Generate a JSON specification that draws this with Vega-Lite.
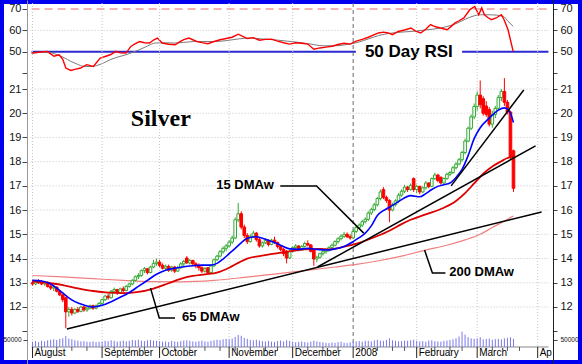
{
"$schema":"https://vega.github.io/schema/vega-lite/v6.json",
"width":582,"height":364,"autosize":"none","padding":0,"background":"white",
"config":{"view":{"stroke":"#0000ee","strokeWidth":8,"fill":"white"},"font":"Liberation Sans"},
"datasets":{
"rsi":[{"i":-0.3,"r":49.4},{"i":2,"r":49.8},{"i":4.9,"r":50.2},{"i":6,"r":49.0},{"i":7.1,"r":47.9},{"i":8.8,"r":48.6},{"i":10,"r":46.5},{"i":11,"r":42.4},{"i":12.7,"r":41.3},{"i":14,"r":41.8},{"i":15.9,"r":42.4},{"i":17.9,"r":44.0},{"i":20.1,"r":43.2},{"i":22.4,"r":47.1},{"i":24,"r":47.8},{"i":25.7,"r":48.6},{"i":27.6,"r":50.2},{"i":29,"r":49.5},{"i":30.9,"r":49.4},{"i":32.5,"r":52.5},{"i":34,"r":53.8},{"i":35.4,"r":54.8},{"i":37,"r":54.2},{"i":38.7,"r":54.1},{"i":40,"r":55.5},{"i":41.3,"r":56.4},{"i":42.9,"r":54.1},{"i":45,"r":53.5},{"i":47.1,"r":53.3},{"i":48.5,"r":54.5},{"i":50,"r":55.7},{"i":51.7,"r":56.4},{"i":54.3,"r":54.8},{"i":56,"r":54.3},{"i":58,"r":53.8},{"i":60,"r":54.8},{"i":62,"r":55.6},{"i":64,"r":56.2},{"i":66,"r":56.8},{"i":68,"r":58.2},{"i":69,"r":57.5},{"i":71,"r":56.2},{"i":73,"r":56.6},{"i":75,"r":55.4},{"i":77,"r":55.8},{"i":79,"r":55.9},{"i":81,"r":55.0},{"i":83,"r":54.2},{"i":85,"r":53.6},{"i":87,"r":54.2},{"i":89,"r":54.0},{"i":91,"r":53.6},{"i":93,"r":51.2},{"i":95,"r":51.8},{"i":97,"r":52.2},{"i":99,"r":52.6},{"i":101,"r":53.4},{"i":103,"r":54.0},{"i":105,"r":53.6},{"i":107,"r":55.0},{"i":109,"r":55.8},{"i":111,"r":56.8},{"i":113,"r":58.0},{"i":114.4,"r":58.8},{"i":116,"r":59.2},{"i":117.6,"r":58.8},{"i":119,"r":58.0},{"i":120.9,"r":59.5},{"i":123,"r":60.2},{"i":125.1,"r":61.1},{"i":126.5,"r":59.8},{"i":128.3,"r":58.8},{"i":130,"r":60.5},{"i":131.6,"r":62.7},{"i":133,"r":61.8},{"i":134.8,"r":61.1},{"i":137.1,"r":60.3},{"i":138.5,"r":62.0},{"i":139.7,"r":63.5},{"i":141,"r":64.5},{"i":142.6,"r":65.8},{"i":144.6,"r":69.7},{"i":146.2,"r":71.2},{"i":147.5,"r":67.3},{"i":148.5,"r":70.5},{"i":149.4,"r":67.3},{"i":150.5,"r":66.0},{"i":151.7,"r":65.0},{"i":153.3,"r":65.8},{"i":155,"r":67.3},{"i":155.9,"r":65.0},{"i":157.2,"r":60.3},{"i":158.9,"r":50.2}],
"sig":[{"i":-0.3,"r":49.4},{"i":4.9,"r":49.8},{"i":8.2,"r":48.6},{"i":10.5,"r":47.2},{"i":12.7,"r":45.5},{"i":14.8,"r":44.2},{"i":16.9,"r":43.2},{"i":19,"r":43.1},{"i":21.1,"r":43.5},{"i":23.5,"r":44.8},{"i":25.7,"r":46.3},{"i":28.3,"r":47.6},{"i":30.9,"r":48.6},{"i":33,"r":49.7},{"i":35.4,"r":51.0},{"i":38,"r":52.7},{"i":40.6,"r":54.1},{"i":44,"r":54.2},{"i":47.1,"r":54.1},{"i":50,"r":54.4},{"i":53.6,"r":54.8},{"i":57,"r":54.8},{"i":60,"r":54.8},{"i":64,"r":55.2},{"i":68,"r":56.0},{"i":72,"r":56.4},{"i":76,"r":56.0},{"i":80,"r":55.6},{"i":84,"r":55.0},{"i":88,"r":54.4},{"i":92,"r":53.6},{"i":96,"r":52.8},{"i":100,"r":52.8},{"i":104,"r":53.4},{"i":108,"r":54.6},{"i":111,"r":56.0},{"i":114.4,"r":57.6},{"i":118,"r":58.6},{"i":122,"r":59.2},{"i":125.1,"r":59.5},{"i":130,"r":60.2},{"i":134.8,"r":61.1},{"i":138,"r":62.2},{"i":140.6,"r":63.5},{"i":143,"r":65.2},{"i":146,"r":66.8},{"i":148,"r":67.3},{"i":151.3,"r":67.3},{"i":155.6,"r":66.6},{"i":157.2,"r":64.2},{"i":158.9,"r":61.9}],
"m15":[{"i":0,"p":13.1},{"i":3,"p":13.07},{"i":6,"p":12.95},{"i":8,"p":12.78},{"i":10,"p":12.58},{"i":12,"p":12.38},{"i":14,"p":12.22},{"i":17,"p":12.08},{"i":20,"p":12.0},{"i":23,"p":12.07},{"i":26,"p":12.22},{"i":29,"p":12.4},{"i":32,"p":12.6},{"i":35,"p":12.85},{"i":38,"p":13.1},{"i":41,"p":13.35},{"i":44,"p":13.52},{"i":47,"p":13.6},{"i":50,"p":13.66},{"i":53,"p":13.7},{"i":56,"p":13.73},{"i":59,"p":13.73},{"i":61,"p":13.8},{"i":63,"p":13.98},{"i":65,"p":14.2},{"i":67,"p":14.42},{"i":69,"p":14.65},{"i":71,"p":14.84},{"i":74,"p":14.9},{"i":77,"p":14.8},{"i":80,"p":14.66},{"i":82,"p":14.55},{"i":85,"p":14.4},{"i":88,"p":14.38},{"i":91,"p":14.42},{"i":94,"p":14.38},{"i":97,"p":14.35},{"i":100,"p":14.4},{"i":103,"p":14.5},{"i":106,"p":14.7},{"i":108,"p":14.86},{"i":110,"p":15.05},{"i":112,"p":15.35},{"i":114,"p":15.78},{"i":116,"p":15.98},{"i":118,"p":16.12},{"i":121,"p":16.35},{"i":125,"p":16.6},{"i":128,"p":16.55},{"i":130,"p":16.68},{"i":132,"p":16.85},{"i":134,"p":16.98},{"i":136,"p":17.05},{"i":138,"p":17.12},{"i":140,"p":17.35},{"i":142,"p":17.68},{"i":144,"p":18.25},{"i":146,"p":18.95},{"i":148,"p":19.4},{"i":151,"p":19.8},{"i":154,"p":20.13},{"i":156,"p":20.22},{"i":157.5,"p":20.12},{"i":159,"p":19.62}],
"m65":[{"i":0,"p":13.05},{"i":5,"p":13.0},{"i":10,"p":12.9},{"i":15,"p":12.77},{"i":20,"p":12.66},{"i":25,"p":12.59},{"i":30,"p":12.57},{"i":35,"p":12.62},{"i":40,"p":12.76},{"i":45,"p":12.98},{"i":49,"p":13.16},{"i":53,"p":13.28},{"i":57,"p":13.35},{"i":61,"p":13.42},{"i":65,"p":13.62},{"i":68,"p":13.82},{"i":71,"p":14.0},{"i":75,"p":14.1},{"i":80,"p":14.2},{"i":85,"p":14.3},{"i":90,"p":14.38},{"i":95,"p":14.4},{"i":98,"p":14.38},{"i":103,"p":14.49},{"i":108,"p":14.65},{"i":114,"p":14.93},{"i":118,"p":15.15},{"i":122,"p":15.42},{"i":125,"p":15.6},{"i":130,"p":15.82},{"i":136,"p":16.1},{"i":140,"p":16.38},{"i":143,"p":16.7},{"i":146,"p":17.1},{"i":149,"p":17.5},{"i":152,"p":17.8},{"i":155,"p":18.02},{"i":157,"p":18.15},{"i":159,"p":18.22}],
"m200":[{"i":0,"p":13.3},{"i":10,"p":13.24},{"i":20,"p":13.17},{"i":30,"p":13.1},{"i":40,"p":13.05},{"i":49,"p":13.04},{"i":60,"p":13.1},{"i":70,"p":13.22},{"i":80,"p":13.36},{"i":90,"p":13.5},{"i":100,"p":13.65},{"i":107,"p":13.76},{"i":114,"p":13.9},{"i":122,"p":14.1},{"i":130,"p":14.35},{"i":137,"p":14.55},{"i":143,"p":14.77},{"i":148,"p":15.0},{"i":152,"p":15.28},{"i":156,"p":15.55},{"i":159,"p":15.76}],
"ann":[{"g":"A","i":11.37,"p":11.09},{"g":"A","i":168.3,"p":15.92},{"g":"B","i":94.2,"p":13.65},{"g":"B","i":166.3,"p":18.65},{"g":"C","i":138.4,"p":17.0},{"g":"C","i":162.4,"p":20.96},{"g":"P15","i":81.9,"p":17.0},{"g":"P15","i":93.9,"p":17.0},{"g":"P15","i":109.5,"p":15.05},{"g":"P65","i":39.0,"p":12.78},{"g":"P65","i":41.9,"p":11.545},{"g":"P65","i":47.1,"p":11.545},{"g":"P200","i":129.6,"p":14.35},{"g":"P200","i":132.2,"p":13.4},{"g":"P200","i":136.5,"p":13.4}],
"months":[{"m":0,"name":"August"},{"m":23,"name":"September"},{"m":42,"name":"October"},{"m":65,"name":"November"},{"m":86,"name":"December"},{"m":106,"name":"2008"},{"m":127,"name":"February"},{"m":147,"name":"March"},{"m":167,"name":"Ap"}],
"weeks":[{"w":3},{"w":8},{"w":13},{"w":18},{"w":27},{"w":32},{"w":37},{"w":47},{"w":52},{"w":57},{"w":62},{"w":67},{"w":72},{"w":77},{"w":81},{"w":91},{"w":96},{"w":101},{"w":109},{"w":114},{"w":119},{"w":123},{"w":133},{"w":138},{"w":142},{"w":152},{"w":157},{"w":161}],
"candles":[
{"i":0,"o":13.0,"h":13.12,"l":12.88,"c":12.95,"v":38000},
{"i":1,"o":12.95,"h":13.1,"l":12.9,"c":13.05,"v":42000},
{"i":2,"o":13.05,"h":13.15,"l":12.95,"c":13.0,"v":35000},
{"i":3,"o":13.0,"h":13.1,"l":12.9,"c":12.95,"v":45000},
{"i":4,"o":12.95,"h":13.08,"l":12.88,"c":13.02,"v":40000},
{"i":5,"o":13.02,"h":13.05,"l":12.8,"c":12.85,"v":48000},
{"i":6,"o":12.85,"h":12.95,"l":12.7,"c":12.78,"v":52000},
{"i":7,"o":12.78,"h":12.9,"l":12.65,"c":12.82,"v":55000},
{"i":8,"o":12.82,"h":12.85,"l":12.6,"c":12.65,"v":50000},
{"i":9,"o":12.65,"h":12.7,"l":12.45,"c":12.5,"v":58000},
{"i":10,"o":12.5,"h":12.55,"l":12.2,"c":12.3,"v":62000},
{"i":11,"o":12.38,"h":12.42,"l":11.12,"c":11.8,"v":78000},
{"i":12,"o":11.8,"h":12.0,"l":11.6,"c":11.9,"v":60000},
{"i":13,"o":11.9,"h":12.0,"l":11.65,"c":11.75,"v":55000},
{"i":14,"o":11.75,"h":11.95,"l":11.7,"c":11.9,"v":48000},
{"i":15,"o":11.9,"h":12.0,"l":11.75,"c":11.82,"v":45000},
{"i":16,"o":11.82,"h":12.05,"l":11.78,"c":12.0,"v":40000},
{"i":17,"o":12.0,"h":12.05,"l":11.8,"c":11.88,"v":42000},
{"i":18,"o":11.88,"h":12.0,"l":11.8,"c":11.95,"v":38000},
{"i":19,"o":11.95,"h":12.1,"l":11.9,"c":12.05,"v":36000},
{"i":20,"o":12.05,"h":12.1,"l":11.88,"c":11.95,"v":40000},
{"i":21,"o":11.95,"h":12.1,"l":11.9,"c":12.05,"v":35000},
{"i":22,"o":12.05,"h":12.2,"l":12.0,"c":12.15,"v":38000},
{"i":23,"o":12.15,"h":12.35,"l":12.1,"c":12.3,"v":40000},
{"i":24,"o":12.3,"h":12.5,"l":12.25,"c":12.45,"v":45000},
{"i":25,"o":12.45,"h":12.55,"l":12.3,"c":12.38,"v":42000},
{"i":26,"o":12.38,"h":12.7,"l":12.35,"c":12.65,"v":48000},
{"i":27,"o":12.65,"h":12.8,"l":12.55,"c":12.72,"v":44000},
{"i":28,"o":12.72,"h":12.75,"l":12.5,"c":12.58,"v":38000},
{"i":29,"o":12.58,"h":12.8,"l":12.55,"c":12.75,"v":42000},
{"i":30,"o":12.75,"h":12.85,"l":12.6,"c":12.68,"v":46000},
{"i":31,"o":12.68,"h":12.9,"l":12.65,"c":12.85,"v":40000},
{"i":32,"o":12.85,"h":13.0,"l":12.8,"c":12.95,"v":44000},
{"i":33,"o":12.95,"h":13.15,"l":12.9,"c":13.1,"v":50000},
{"i":34,"o":13.1,"h":13.3,"l":13.05,"c":13.25,"v":48000},
{"i":35,"o":13.25,"h":13.4,"l":13.15,"c":13.3,"v":52000},
{"i":36,"o":13.3,"h":13.55,"l":13.25,"c":13.5,"v":45000},
{"i":37,"o":13.5,"h":13.65,"l":13.4,"c":13.58,"v":42000},
{"i":38,"o":13.58,"h":13.6,"l":13.35,"c":13.42,"v":48000},
{"i":39,"o":13.42,"h":13.7,"l":13.4,"c":13.65,"v":50000},
{"i":40,"o":13.65,"h":13.95,"l":13.6,"c":13.8,"v":46000},
{"i":41,"o":13.8,"h":14.0,"l":13.7,"c":13.85,"v":44000},
{"i":42,"o":13.85,"h":13.95,"l":13.65,"c":13.72,"v":42000},
{"i":43,"o":13.72,"h":13.8,"l":13.55,"c":13.6,"v":38000},
{"i":44,"o":13.6,"h":13.75,"l":13.5,"c":13.68,"v":40000},
{"i":45,"o":13.68,"h":13.75,"l":13.45,"c":13.52,"v":36000},
{"i":46,"o":13.52,"h":13.7,"l":13.45,"c":13.65,"v":44000},
{"i":47,"o":13.65,"h":13.7,"l":13.4,"c":13.48,"v":40000},
{"i":48,"o":13.48,"h":13.7,"l":13.45,"c":13.62,"v":38000},
{"i":49,"o":13.62,"h":13.85,"l":13.58,"c":13.78,"v":42000},
{"i":50,"o":13.78,"h":13.95,"l":13.7,"c":13.88,"v":46000},
{"i":51,"o":14.02,"h":14.1,"l":13.78,"c":13.82,"v":48000},
{"i":52,"o":13.82,"h":13.98,"l":13.75,"c":13.92,"v":44000},
{"i":53,"o":13.92,"h":13.95,"l":13.7,"c":13.78,"v":40000},
{"i":54,"o":13.78,"h":13.85,"l":13.6,"c":13.7,"v":38000},
{"i":55,"o":13.7,"h":13.8,"l":13.5,"c":13.62,"v":42000},
{"i":56,"o":13.62,"h":13.68,"l":13.4,"c":13.48,"v":45000},
{"i":57,"o":13.48,"h":13.65,"l":13.42,"c":13.58,"v":40000},
{"i":58,"o":13.62,"h":13.65,"l":13.35,"c":13.42,"v":38000},
{"i":59,"o":13.42,"h":13.75,"l":13.4,"c":13.7,"v":44000},
{"i":60,"o":13.7,"h":14.0,"l":13.65,"c":13.95,"v":48000},
{"i":61,"o":13.95,"h":14.15,"l":13.9,"c":14.1,"v":52000},
{"i":62,"o":14.1,"h":14.35,"l":14.05,"c":14.28,"v":50000},
{"i":63,"o":14.28,"h":14.5,"l":14.2,"c":14.42,"v":55000},
{"i":64,"o":14.42,"h":14.6,"l":14.3,"c":14.52,"v":58000},
{"i":65,"o":14.52,"h":14.75,"l":14.45,"c":14.68,"v":55000},
{"i":66,"o":14.68,"h":14.95,"l":14.6,"c":14.85,"v":60000},
{"i":67,"o":14.85,"h":15.7,"l":14.8,"c":15.6,"v":72000},
{"i":68,"o":15.6,"h":16.3,"l":15.5,"c":15.85,"v":86000},
{"i":69,"o":15.85,"h":15.95,"l":15.2,"c":15.3,"v":80000},
{"i":70,"o":15.3,"h":15.4,"l":14.85,"c":14.95,"v":65000},
{"i":71,"o":14.95,"h":15.05,"l":14.6,"c":14.7,"v":58000},
{"i":72,"o":14.7,"h":15.0,"l":14.65,"c":14.92,"v":50000},
{"i":73,"o":14.92,"h":15.15,"l":14.85,"c":15.05,"v":48000},
{"i":74,"o":15.05,"h":15.1,"l":14.7,"c":14.78,"v":52000},
{"i":75,"o":14.78,"h":14.85,"l":14.45,"c":14.52,"v":46000},
{"i":76,"o":14.52,"h":14.7,"l":14.45,"c":14.65,"v":42000},
{"i":77,"o":14.65,"h":14.85,"l":14.6,"c":14.75,"v":40000},
{"i":78,"o":14.75,"h":14.8,"l":14.5,"c":14.58,"v":44000},
{"i":79,"o":14.58,"h":14.82,"l":14.55,"c":14.76,"v":38000},
{"i":80,"o":14.76,"h":14.9,"l":14.6,"c":14.66,"v":36000},
{"i":81,"o":14.66,"h":14.7,"l":14.42,"c":14.5,"v":42000},
{"i":82,"o":14.5,"h":14.55,"l":14.3,"c":14.38,"v":46000},
{"i":83,"o":14.38,"h":14.45,"l":14.1,"c":14.2,"v":40000},
{"i":84,"o":14.3,"h":14.35,"l":13.8,"c":14.02,"v":48000},
{"i":85,"o":14.02,"h":14.35,"l":13.98,"c":14.3,"v":44000},
{"i":86,"o":14.3,"h":14.5,"l":14.25,"c":14.45,"v":38000},
{"i":87,"o":14.45,"h":14.6,"l":14.35,"c":14.52,"v":34000},
{"i":88,"o":14.52,"h":14.55,"l":14.3,"c":14.36,"v":36000},
{"i":89,"o":14.36,"h":14.55,"l":14.32,"c":14.5,"v":40000},
{"i":90,"o":14.5,"h":14.7,"l":14.45,"c":14.62,"v":35000},
{"i":91,"o":14.62,"h":14.75,"l":14.5,"c":14.56,"v":32000},
{"i":92,"o":14.56,"h":14.6,"l":14.25,"c":14.3,"v":38000},
{"i":93,"o":14.35,"h":14.4,"l":13.7,"c":13.98,"v":45000},
{"i":94,"o":13.98,"h":14.12,"l":13.85,"c":14.05,"v":40000},
{"i":95,"o":14.05,"h":14.25,"l":14.0,"c":14.2,"v":36000},
{"i":96,"o":14.2,"h":14.35,"l":14.12,"c":14.28,"v":34000},
{"i":97,"o":14.28,"h":14.42,"l":14.2,"c":14.35,"v":30000},
{"i":98,"o":14.35,"h":14.5,"l":14.28,"c":14.45,"v":28000},
{"i":99,"o":14.45,"h":14.62,"l":14.4,"c":14.55,"v":32000},
{"i":100,"o":14.55,"h":14.75,"l":14.5,"c":14.7,"v":30000},
{"i":101,"o":14.7,"h":14.88,"l":14.62,"c":14.82,"v":35000},
{"i":102,"o":14.82,"h":15.0,"l":14.75,"c":14.92,"v":38000},
{"i":103,"o":14.92,"h":15.1,"l":14.85,"c":15.0,"v":30000},
{"i":104,"o":15.0,"h":15.08,"l":14.85,"c":14.9,"v":28000},
{"i":105,"o":14.9,"h":15.0,"l":14.78,"c":14.85,"v":34000},
{"i":106,"o":14.85,"h":15.2,"l":14.8,"c":15.12,"v":36000},
{"i":107,"o":15.12,"h":15.35,"l":15.05,"c":15.28,"v":40000},
{"i":108,"o":15.28,"h":15.45,"l":15.2,"c":15.38,"v":42000},
{"i":109,"o":15.38,"h":15.6,"l":15.3,"c":15.52,"v":38000},
{"i":110,"o":15.52,"h":15.7,"l":15.45,"c":15.62,"v":45000},
{"i":111,"o":15.62,"h":15.95,"l":15.55,"c":15.88,"v":44000},
{"i":112,"o":15.88,"h":16.1,"l":15.8,"c":16.02,"v":40000},
{"i":113,"o":16.02,"h":16.3,"l":15.95,"c":16.22,"v":48000},
{"i":114,"o":16.22,"h":16.55,"l":16.15,"c":16.48,"v":52000},
{"i":115,"o":16.48,"h":16.85,"l":16.4,"c":16.75,"v":46000},
{"i":116,"o":16.85,"h":16.95,"l":16.45,"c":16.52,"v":44000},
{"i":117,"o":16.52,"h":16.6,"l":16.3,"c":16.4,"v":50000},
{"i":118,"o":16.4,"h":16.45,"l":15.5,"c":16.0,"v":62000},
{"i":119,"o":16.0,"h":16.3,"l":15.95,"c":16.22,"v":48000},
{"i":120,"o":16.22,"h":16.45,"l":16.15,"c":16.38,"v":44000},
{"i":121,"o":16.38,"h":16.7,"l":16.3,"c":16.62,"v":40000},
{"i":122,"o":16.62,"h":16.85,"l":16.55,"c":16.78,"v":42000},
{"i":123,"o":16.78,"h":17.05,"l":16.7,"c":16.95,"v":46000},
{"i":124,"o":16.95,"h":17.0,"l":16.75,"c":16.85,"v":44000},
{"i":125,"o":16.85,"h":17.1,"l":16.8,"c":17.02,"v":48000},
{"i":126,"o":17.3,"h":17.35,"l":16.75,"c":16.85,"v":52000},
{"i":127,"o":16.85,"h":17.05,"l":16.7,"c":16.98,"v":44000},
{"i":128,"o":16.98,"h":17.0,"l":16.65,"c":16.75,"v":40000},
{"i":129,"o":16.75,"h":16.98,"l":16.7,"c":16.92,"v":42000},
{"i":130,"o":16.92,"h":17.2,"l":16.85,"c":17.12,"v":38000},
{"i":131,"o":17.12,"h":17.15,"l":16.9,"c":16.98,"v":46000},
{"i":132,"o":16.98,"h":17.35,"l":16.95,"c":17.3,"v":48000},
{"i":133,"o":17.3,"h":17.55,"l":17.25,"c":17.45,"v":42000},
{"i":134,"o":17.45,"h":17.5,"l":17.15,"c":17.22,"v":40000},
{"i":135,"o":17.35,"h":17.4,"l":17.05,"c":17.12,"v":38000},
{"i":136,"o":17.12,"h":17.35,"l":17.08,"c":17.3,"v":44000},
{"i":137,"o":17.3,"h":17.55,"l":17.25,"c":17.48,"v":46000},
{"i":138,"o":17.48,"h":17.62,"l":17.4,"c":17.55,"v":50000},
{"i":139,"o":17.55,"h":17.82,"l":17.5,"c":17.75,"v":55000},
{"i":140,"o":17.75,"h":17.98,"l":17.68,"c":17.9,"v":62000},
{"i":141,"o":17.9,"h":18.15,"l":17.85,"c":18.08,"v":75000},
{"i":142,"o":18.08,"h":18.45,"l":18.0,"c":18.38,"v":110000},
{"i":143,"o":18.38,"h":18.95,"l":18.3,"c":18.85,"v":88000},
{"i":144,"o":18.85,"h":19.45,"l":18.8,"c":19.38,"v":70000},
{"i":145,"o":19.38,"h":19.95,"l":19.3,"c":19.85,"v":62000},
{"i":146,"o":19.85,"h":20.4,"l":19.75,"c":20.28,"v":58000},
{"i":147,"o":20.28,"h":20.9,"l":20.1,"c":20.75,"v":62000},
{"i":148,"o":20.75,"h":21.35,"l":20.2,"c":20.35,"v":70000},
{"i":149,"o":20.6,"h":20.7,"l":19.9,"c":20.0,"v":55000},
{"i":150,"o":20.3,"h":20.5,"l":19.85,"c":19.95,"v":58000},
{"i":151,"o":20.15,"h":20.25,"l":19.45,"c":19.55,"v":60000},
{"i":152,"o":19.55,"h":20.1,"l":19.4,"c":19.95,"v":52000},
{"i":153,"o":19.95,"h":20.3,"l":19.8,"c":20.2,"v":56000},
{"i":154,"o":20.2,"h":20.75,"l":20.1,"c":20.65,"v":58000},
{"i":155,"o":20.65,"h":21.0,"l":20.5,"c":20.9,"v":54000},
{"i":156,"o":20.9,"h":21.45,"l":20.3,"c":20.45,"v":62000},
{"i":157,"o":20.45,"h":20.55,"l":19.95,"c":20.05,"v":66000},
{"i":158,"o":20.05,"h":20.1,"l":18.1,"c":18.2,"v":70000},
{"i":159,"o":18.45,"h":18.5,"l":16.75,"c":16.9,"v":58000}
]},
"layer":[
{"layer":[
 {"data":{"values":[{"g":60}]},"mark":{"type":"rule","color":"#c4c4c4","strokeDash":[1,2]},
  "encoding":{"x":{"datum":-0.3,"type":"quantitative","scale":{"domain":[-9.097,180],"nice":false,"zero":false},"axis":null},
   "x2":{"datum":170.56},
   "y":{"field":"g","type":"quantitative","scale":{"domain":[-95.9,74.2],"nice":false,"zero":false},"axis":null}}},
 {"data":{"values":[{"g":70}]},"mark":{"type":"rule","color":"#e86a6a","strokeDash":[8,5],"strokeWidth":1.2},
  "encoding":{"x":{"datum":-0.3,"type":"quantitative","scale":{"domain":[-9.097,180],"nice":false,"zero":false},"axis":null},"x2":{"datum":170.56},
   "y":{"field":"g","type":"quantitative","scale":{"domain":[-95.9,74.2],"nice":false,"zero":false},"axis":null}}},
 {"data":{"values":[{"a":-0.3,"b":106.9},{"a":142,"b":170.56}]},"mark":{"type":"rule","color":"#2a2ad0","strokeWidth":2},
  "encoding":{"x":{"field":"a","type":"quantitative","scale":{"domain":[-9.097,180],"nice":false,"zero":false},"axis":null},"x2":{"field":"b"},
   "y":{"datum":50,"type":"quantitative","scale":{"domain":[-95.9,74.2],"nice":false,"zero":false},"axis":null}}},
 {"data":{"name":"sig"},"mark":{"type":"line","color":"#7a7a7a","strokeWidth":1,"interpolate":"monotone"},
  "encoding":{"x":{"field":"i","type":"quantitative","scale":{"domain":[-9.097,180],"nice":false,"zero":false},"axis":null},
   "y":{"field":"r","type":"quantitative","scale":{"domain":[-95.9,74.2],"nice":false,"zero":false},
    "axis":{"orient":"right","offset":-29,"values":[40,50,60,70],"labelExpr":"datum.value == 40 ? '' : datum.label","grid":false,"domain":false,"ticks":true,"tickSize":4,"tickColor":"#444","labelColor":"#111","labelFontSize":11,"labelFont":"Liberation Sans","labelPadding":3,"title":null,"labelOverlap":false,"labelFlush":false}}}},
 {"data":{"name":"rsi"},"mark":{"type":"line","color":"#ff0000","strokeWidth":1.4},
  "encoding":{"x":{"field":"i","type":"quantitative","scale":{"domain":[-9.097,180],"nice":false,"zero":false},"axis":null},
   "y":{"field":"r","type":"quantitative","scale":{"domain":[-95.9,74.2],"nice":false,"zero":false},
    "axis":{"orient":"left","offset":-27,"values":[40,50,60,70],"labelExpr":"datum.value == 40 ? '' : datum.label","grid":false,"domain":false,"ticks":true,"tickSize":5,"tickColor":"#444","labelColor":"#111","labelFontSize":11,"labelFont":"Liberation Sans","labelPadding":1,"title":null,"labelOverlap":false,"labelFlush":false}}}},
 {"data":{"values":[{}]},"mark":{"type":"text","text":"50 Day RSI","font":"Liberation Sans","fontSize":17,"fontWeight":"bold","align":"center","baseline":"middle","color":"#000"},
  "encoding":{"x":{"datum":124.4,"type":"quantitative","scale":{"domain":[-9.097,180],"nice":false,"zero":false},"axis":null},
   "y":{"datum":50,"type":"quantitative","scale":{"domain":[-95.9,74.2],"nice":false,"zero":false},"axis":null}}}
],"resolve":{"axis":{"y":"independent"}}},
{"layer":[
 {"data":{"values":[{"g":12},{"g":13},{"g":14},{"g":15},{"g":16},{"g":17},{"g":18},{"g":19},{"g":20},{"g":21}]},"mark":{"type":"rule","color":"#c4c4c4","strokeDash":[1,2]},
  "encoding":{"x":{"datum":-0.3,"type":"quantitative","scale":{"domain":[-9.097,180],"nice":false,"zero":false},"axis":null},"x2":{"datum":170.56},
   "y":{"field":"g","type":"quantitative","scale":{"domain":[9.646,24.675],"nice":false,"zero":false},"axis":null}}},
 {"data":{"name":"months"},"mark":{"type":"rule","strokeWidth":1},
  "encoding":{"x":{"field":"m","type":"quantitative","scale":{"domain":[-9.097,180],"nice":false,"zero":false},"axis":null},
   "y":{"datum":24.55,"type":"quantitative","scale":{"domain":[9.646,24.675],"nice":false,"zero":false},"axis":null},"y2":{"datum":10.35},
   "color":{"condition":{"test":"datum.m == 106","value":"#6a6a6a"},"value":"#c4c4c4"},
   "strokeDash":{"condition":{"test":"datum.m == 106","value":[4,3]},"value":[1,2]}}},
 {"data":{"name":"m200"},"mark":{"type":"line","color":"#f08080","strokeWidth":1.2,"interpolate":"monotone"},
  "encoding":{"x":{"field":"i","type":"quantitative","scale":{"domain":[-9.097,180],"nice":false,"zero":false},"axis":null},
   "y":{"field":"p","type":"quantitative","scale":{"domain":[9.646,24.675],"nice":false,"zero":false},"axis":null}}},
 {"data":{"name":"candles"},"mark":{"type":"rule","strokeWidth":1},
  "encoding":{"x":{"field":"i","type":"quantitative","scale":{"domain":[-9.097,180],"nice":false,"zero":false},"axis":null},
   "y":{"field":"l","type":"quantitative","scale":{"domain":[9.646,24.675],"nice":false,"zero":false},"axis":null},"y2":{"field":"h"},
   "color":{"condition":{"test":"datum.c >= datum.o","value":"#33a833"},"value":"#ff0000"}}},
 {"data":{"name":"candles"},"mark":{"type":"bar","width":2.6,"strokeWidth":1},
  "encoding":{"x":{"field":"i","type":"quantitative","scale":{"domain":[-9.097,180],"nice":false,"zero":false},"axis":null},
   "y":{"field":"o","type":"quantitative","scale":{"domain":[9.646,24.675],"nice":false,"zero":false},"axis":null},"y2":{"field":"c"},
   "fill":{"condition":{"test":"datum.c >= datum.o","value":"#ffffff"},"value":"#ff0000"},
   "stroke":{"condition":{"test":"datum.c >= datum.o","value":"#33a833"},"value":"#ff0000"}}},
 {"data":{"name":"m65"},"mark":{"type":"line","color":"#dd0000","strokeWidth":1.8,"interpolate":"monotone"},
  "encoding":{"x":{"field":"i","type":"quantitative","scale":{"domain":[-9.097,180],"nice":false,"zero":false},"axis":null},
   "y":{"field":"p","type":"quantitative","scale":{"domain":[9.646,24.675],"nice":false,"zero":false},
    "axis":{"orient":"right","offset":-29,"values":[11,12,13,14,15,16,17,18,19,20,21],"labelExpr":"datum.value < 12 ? '' : datum.label","grid":false,"domain":true,"domainColor":"#222","ticks":true,"tickSize":4,"tickColor":"#444","labelColor":"#111","labelFontSize":11,"labelFont":"Liberation Sans","labelPadding":3,"title":null,"labelOverlap":false,"labelFlush":false}}}},
 {"data":{"name":"m15"},"mark":{"type":"line","color":"#0000ff","strokeWidth":1.6,"interpolate":"monotone"},
  "encoding":{"x":{"field":"i","type":"quantitative","scale":{"domain":[-9.097,180],"nice":false,"zero":false},"axis":null},
   "y":{"field":"p","type":"quantitative","scale":{"domain":[9.646,24.675],"nice":false,"zero":false},
    "axis":{"orient":"left","offset":-27,"values":[11,12,13,14,15,16,17,18,19,20,21],"labelExpr":"datum.value < 12 ? '' : datum.label","grid":false,"domain":true,"domainColor":"#999","ticks":true,"tickSize":5,"tickColor":"#444","labelColor":"#111","labelFontSize":11,"labelFont":"Liberation Sans","labelPadding":1,"title":null,"labelOverlap":false,"labelFlush":false}}}},
 {"data":{"name":"ann"},"mark":{"type":"line","color":"#000000","strokeWidth":1.5},
  "encoding":{"x":{"field":"i","type":"quantitative","scale":{"domain":[-9.097,180],"nice":false,"zero":false},"axis":null},
   "y":{"field":"p","type":"quantitative","scale":{"domain":[9.646,24.675],"nice":false,"zero":false},"axis":null},"detail":{"field":"g"}}},
 {"data":{"values":[{}]},"mark":{"type":"text","text":"Silver","font":"Liberation Serif","fontSize":24,"fontWeight":"bold","align":"left","baseline":"middle","color":"#000"},
  "encoding":{"x":{"datum":32.5,"type":"quantitative","scale":{"domain":[-9.097,180],"nice":false,"zero":false},"axis":null},
   "y":{"datum":19.76,"type":"quantitative","scale":{"domain":[9.646,24.675],"nice":false,"zero":false},"axis":null}}},
 {"data":{"values":[{}]},"mark":{"type":"text","text":"15 DMAw","font":"Liberation Sans","fontSize":13,"fontWeight":"bold","align":"left","baseline":"middle","color":"#000"},
  "encoding":{"x":{"datum":60.75,"type":"quantitative","scale":{"domain":[-9.097,180],"nice":false,"zero":false},"axis":null},
   "y":{"datum":17.02,"type":"quantitative","scale":{"domain":[9.646,24.675],"nice":false,"zero":false},"axis":null}}},
 {"data":{"values":[{}]},"mark":{"type":"text","text":"65 DMAw","font":"Liberation Sans","fontSize":13,"fontWeight":"bold","align":"left","baseline":"middle","color":"#000"},
  "encoding":{"x":{"datum":49.4,"type":"quantitative","scale":{"domain":[-9.097,180],"nice":false,"zero":false},"axis":null},
   "y":{"datum":11.6,"type":"quantitative","scale":{"domain":[9.646,24.675],"nice":false,"zero":false},"axis":null}}},
 {"data":{"values":[{}]},"mark":{"type":"text","text":"200 DMAw","font":"Liberation Sans","fontSize":13,"fontWeight":"bold","align":"left","baseline":"middle","color":"#000"},
  "encoding":{"x":{"datum":137.75,"type":"quantitative","scale":{"domain":[-9.097,180],"nice":false,"zero":false},"axis":null},
   "y":{"datum":13.45,"type":"quantitative","scale":{"domain":[9.646,24.675],"nice":false,"zero":false},"axis":null}}}
],"resolve":{"axis":{"y":"independent"}}},
{"layer":[
 {"data":{"values":[{}]},"mark":{"type":"rule","color":"#888888","strokeWidth":1},
  "encoding":{"x":{"datum":-0.3,"type":"quantitative","scale":{"domain":[-9.097,180],"nice":false,"zero":false},"axis":null},"x2":{"datum":170.56},
   "y":{"datum":0,"type":"quantitative","scale":{"domain":[-121429,2478571],"nice":false,"zero":false},
    "axis":{"orient":"right","offset":-29,"values":[50000],"format":"d","grid":false,"domain":false,"ticks":true,"tickSize":4,"tickColor":"#444","labelColor":"#111","labelFontSize":6.5,"labelFont":"Liberation Sans","labelPadding":3,"title":null,"labelOverlap":false,"labelFlush":false}}}},
 {"data":{"name":"candles"},"mark":{"type":"rule","color":"#7878ea","strokeWidth":1},
  "encoding":{"x":{"field":"i","type":"quantitative","scale":{"domain":[-9.097,180],"nice":false,"zero":false},"axis":null},
   "y":{"field":"v","type":"quantitative","scale":{"domain":[-121429,2478571],"nice":false,"zero":false},
    "axis":{"orient":"left","offset":-27,"values":[50000],"format":"d","grid":false,"domain":false,"ticks":true,"tickSize":4,"tickColor":"#444","labelColor":"#111","labelFontSize":6.5,"labelFont":"Liberation Sans","labelPadding":2,"title":null,"labelOverlap":false,"labelFlush":false}},
   "y2":{"datum":0}}},
 {"data":{"name":"weeks"},"mark":{"type":"rule","color":"#555555","strokeWidth":1},
  "encoding":{"x":{"field":"w","type":"quantitative","scale":{"domain":[-9.097,180],"nice":false,"zero":false},"axis":null},
   "y":{"datum":0,"type":"quantitative","scale":{"domain":[-121429,2478571],"nice":false,"zero":false},"axis":null},"y2":{"datum":-28000}}},
 {"data":{"name":"months"},"mark":{"type":"rule","color":"#222222","strokeWidth":1},
  "encoding":{"x":{"field":"m","type":"quantitative","scale":{"domain":[-9.097,180],"nice":false,"zero":false},"axis":null},
   "y":{"datum":0,"type":"quantitative","scale":{"domain":[-121429,2478571],"nice":false,"zero":false},"axis":null},"y2":{"datum":-78571}}},
 {"data":{"name":"months"},"mark":{"type":"text","font":"Liberation Sans","fontSize":10,"align":"left","baseline":"alphabetic","dx":2,"color":"#000"},
  "encoding":{"x":{"field":"m","type":"quantitative","scale":{"domain":[-9.097,180],"nice":false,"zero":false},"axis":null},
   "y":{"datum":-64286,"type":"quantitative","scale":{"domain":[-121429,2478571],"nice":false,"zero":false},"axis":null},
   "text":{"field":"name"}}}
],"resolve":{"axis":{"y":"independent"}}}
],
"resolve":{"scale":{"y":"independent"},"axis":{"y":"independent"}}
}
